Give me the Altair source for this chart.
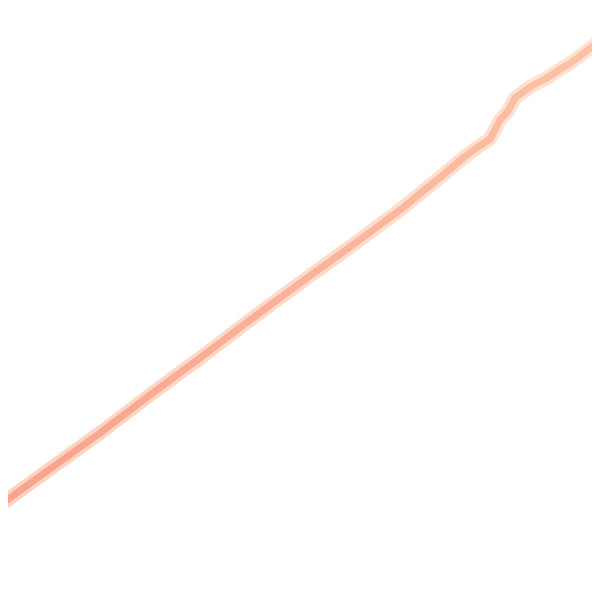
import altair as alt
import pandas as pd

# position index along the horizontal (0-100) and level of the series
xs = [0, 8.33, 16.67, 25, 33.33, 41.67, 50, 58.33, 66.67, 73.83, 77.17, 79.67,
      81.67, 83.33, 84.67, 85.83, 88.33, 90.83, 93.17, 95.33, 97.5, 100]
ys = [15.83, 21.83, 27.83, 34.17, 40.33, 46.67, 52.83, 58.83, 65.0, 70.83,
      73.67, 75.5, 76.83, 80.0, 81.5, 83.67, 85.5, 86.83, 88.33, 89.67, 91.33,
      93.17]

df = pd.DataFrame({"t": xs, "v": ys})

xscale = alt.Scale(domain=[4 / 3, 98 + 2 / 3], nice=False, zero=False)
yscale = alt.Scale(domain=[4 / 3, 98 + 2 / 3], nice=False, zero=False)

base = alt.Chart(df).encode(
    x=alt.X("t:Q", scale=xscale, axis=None),
    y=alt.Y("v:Q", scale=yscale, axis=None),
    order="t:Q",
)

halo = base.mark_line(
    color=alt.Gradient(
        gradient="linear",
        stops=[alt.GradientStop(color="#fdcdb6", offset=0),
               alt.GradientStop(color="#fee0cf", offset=1)],
        x1=0, x2=1, y1=1, y2=0,
    ),
    strokeWidth=14, strokeCap="round", strokeJoin="round", opacity=0.9,
)

core = base.mark_line(
    color=alt.Gradient(
        gradient="linear",
        stops=[alt.GradientStop(color="#f8a28c", offset=0),
               alt.GradientStop(color="#fab29a", offset=0.5),
               alt.GradientStop(color="#fcc2a6", offset=1)],
        x1=0, x2=1, y1=1, y2=0,
    ),
    strokeWidth=7, strokeCap="round", strokeJoin="round",
)

chart = (halo + core).properties(
    width=584, height=584, padding=0,
    autosize=alt.AutoSizeParams(type="none"),
).configure_view(stroke=None)

chart.save("out.html", embed_options={"renderer": "svg", "actions": False})
